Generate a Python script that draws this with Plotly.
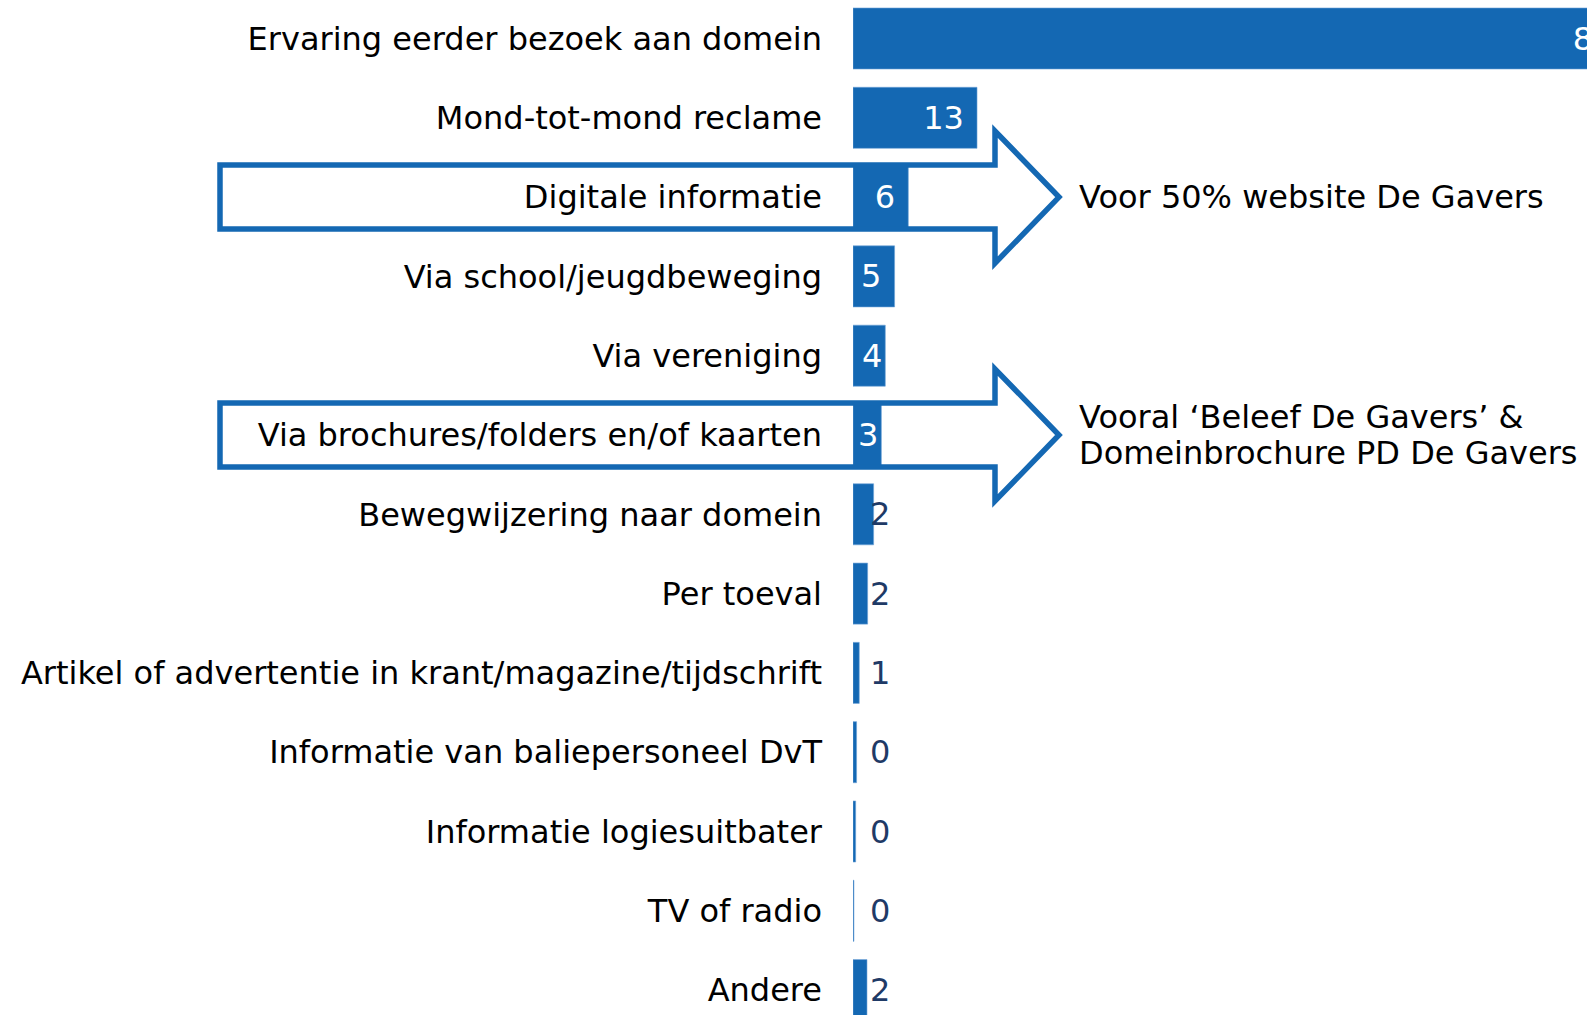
import plotly.graph_objects as go

# Data (percentages)
categories = [
    "Ervaring eerder bezoek aan domein",
    "Mond-tot-mond reclame",
    "Digitale informatie",
    "Via school/jeugdbeweging",
    "Via vereniging",
    "Via brochures/folders en/of kaarten",
    "Bewegwijzering naar domein",
    "Per toeval",
    "Artikel of advertentie in krant/magazine/tijdschrift",
    "Informatie van baliepersoneel DvT",
    "Informatie logiesuitbater",
    "TV of radio",
    "Andere",
]
values = [84.1, 13.48, 6.01, 4.52, 3.51, 3.08, 2.24, 1.59, 0.68, 0.39, 0.29, 0.1, 1.52]

callout_rows = ["Digitale informatie", "Via brochures/folders en/of kaarten"]
callout_texts = [
    ["Voor 50% website De Gavers"],
    ["Vooral \u2018Beleef De Gavers\u2019 &", "Domeinbrochure PD De Gavers"],
]

BLUE = "#1468B3"
NAVY = "#1F3A66"
FONT = "DejaVu Sans"
FS = 32
W, H = 1587, 1015
L = 853

inside = [v >= 2.5 for v in values]


def bar_label(v, ins):
    if not ins:
        return ""
    # a little breathing room at the bar end when the bar is wide enough
    return f"{v:.0f}\u00a0" if v >= 4 else f"{v:.0f}"


fig = go.Figure(go.Bar(
    x=values,
    y=categories,
    orientation="h",
    marker=dict(color=BLUE, line=dict(color="#6FA3D6", width=0.6)),
    text=[bar_label(v, ins) for v, ins in zip(values, inside)],
    textposition="inside",
    insidetextanchor="end",
    textfont=dict(family=FONT, size=FS, color="white"),
    constraintext="none",
    cliponaxis=True,
))

# labels for the small bars, just right of the axis
for cat, v, ins in zip(categories, values, inside):
    if not ins:
        fig.add_annotation(x=0, y=cat, xref="x", yref="y", text=f"{v:.0f}",
                           showarrow=False, xanchor="left", xshift=15,
                           font=dict(family=FONT, size=FS, color=NAVY))


def px2paper(px, py):
    return (px - L) / (W - L), 1 - py / H


def arrow_path(yc, left=220, body_end=995, tip=1059, hb=32, hh=66):
    pts = [(left, yc - hb), (body_end, yc - hb), (body_end, yc - hh), (tip, yc),
           (body_end, yc + hh), (body_end, yc + hb), (left, yc + hb)]
    pp = [px2paper(x, y) for x, y in pts]
    return "M " + " L ".join(f"{x:.5f},{y:.5f}" for x, y in pp) + " Z"


row_pitch = 79.3
row0 = 38.5
for cat, lines in zip(callout_rows, callout_texts):
    yc = row0 + row_pitch * categories.index(cat)
    fig.add_shape(type="path", path=arrow_path(yc), xref="paper", yref="paper",
                  line=dict(color=BLUE, width=5.5), fillcolor="rgba(0,0,0,0)", layer="above")
    n = len(lines)
    for i, t in enumerate(lines):
        ty = yc + (i - (n - 1) / 2) * 36.5
        xp, yp = px2paper(1077, ty)
        fig.add_annotation(x=xp, y=yp, xref="paper", yref="paper", text=t,
                           showarrow=False, xanchor="left", yanchor="middle",
                           font=dict(family=FONT, size=FS, color="black"))

lo = -row0 / row_pitch
hi = lo + H / row_pitch
fig.update_layout(
    width=W, height=H,
    margin=dict(l=L, r=0, t=0, b=0),
    plot_bgcolor="white", paper_bgcolor="white",
    bargap=0.23,
    showlegend=False,
    xaxis=dict(range=[0, (W - L) / 9.2], visible=False),
    yaxis=dict(type="category", range=[hi, lo], showgrid=False, zeroline=False,
               showline=False, ticks="", ticklabelstandoff=30,
               tickfont=dict(family=FONT, size=FS, color="black")),
)

fig.write_html("out.html", config={"displayModeBar": False},
               post_script="document.body.style.margin='0px';")
